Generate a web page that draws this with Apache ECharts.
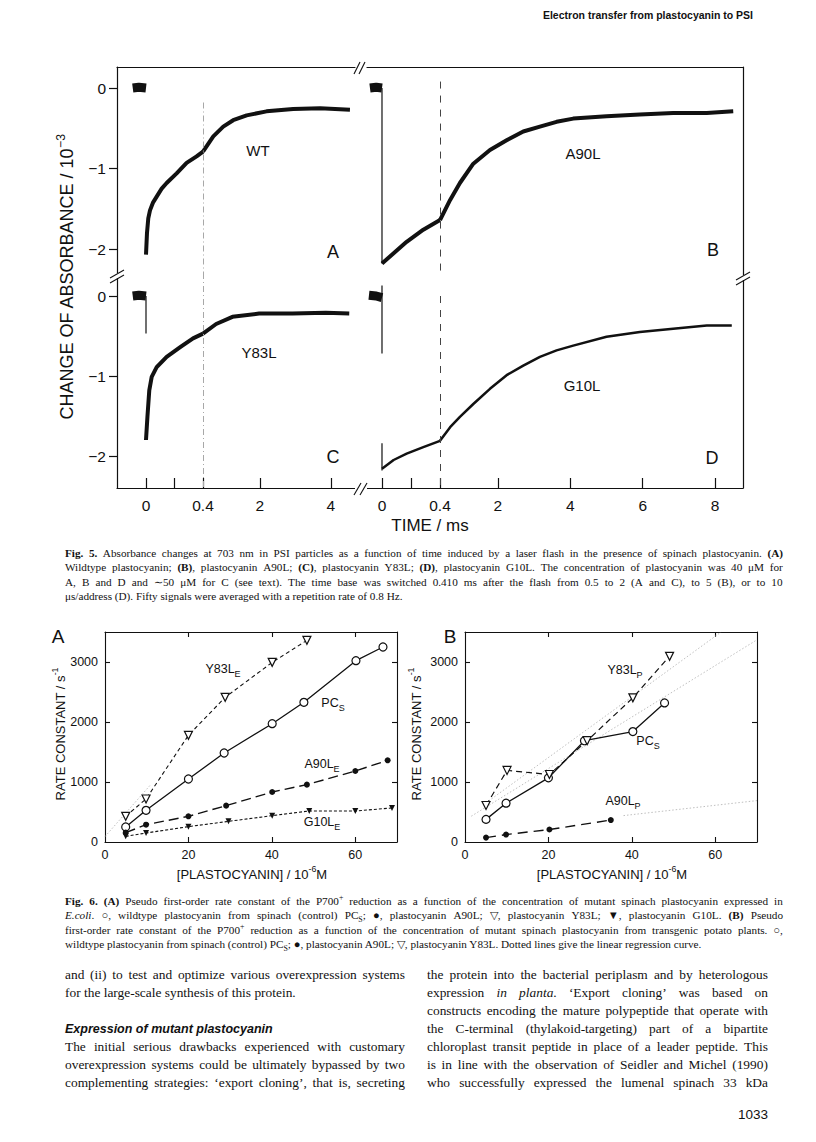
<!DOCTYPE html>
<html>
<head>
<meta charset="utf-8">
<script src="https://cdn.jsdelivr.net/npm/echarts@6/dist/echarts.min.js"></script>
<style>
html,body{margin:0;padding:0;background:#fff;}
#page{position:relative;width:816px;height:1142px;overflow:hidden;background:#fff;}
#chart{position:absolute;left:0;top:0;width:816px;height:1142px;}
.ln{position:absolute;color:#111;font-family:"Liberation Serif","Times New Roman",serif;white-space:nowrap;}
.ln.j{display:flex;justify-content:space-between;}
.cap{font-size:11.2px;line-height:14px;height:14px;}
.bd{font-size:13.4px;line-height:18px;height:18px;}
.ln sub,.ln sup{font-size:70%;line-height:0;}
.sans{position:absolute;color:#111;font-family:"Liberation Sans",Arial,Helvetica,sans-serif;white-space:nowrap;}
</style>
</head>
<body>
<div id="page"><div id="chart"></div></div>
<script>
// ================= Fig. 5 data: time (ms) vs change of absorbance (10^-3) =================
const f5SwitchTime = 0.4;
const f5TicksLeft = [0, 0.2, 0.4, 2, 4];
const f5LabelsLeft = [0, 0.4, 2, 4];
const f5TicksRight = [0, 0.2, 0.4, 2, 4, 6, 8];
const f5LabelsRight = [0, 0.4, 2, 4, 6, 8];
const f5AbsTicks = [0, -1, -2];

// A: wildtype
const wtBaseline = [[-0.093, 0.0], [-0.05, 0.01], [0, 0.0]];
const wtFlash = [];
const wtTrace = [[0, -2.07], [0.007, -1.8], [0.016, -1.62], [0.028, -1.52], [0.05, -1.42], [0.075, -1.35],
  [0.11, -1.25], [0.145, -1.18], [0.215, -1.06], [0.285, -0.93], [0.355, -0.85], [0.4, -0.79],
  [0.69, -0.6], [0.97, -0.48], [1.25, -0.4], [1.63, -0.34], [2.19, -0.29], [2.94, -0.26], [3.7, -0.25], [4.54, -0.27]];
// B: A90L
const a90Baseline = [[-0.083, 0.0], [-0.04, 0.01], [0, 0.0]];
const a90Flash = [[0, 0.0], [0, -2.18]];
const a90Trace = [[0, -2.18], [0.17, -1.91], [0.285, -1.76], [0.4, -1.64], [0.68, -1.39], [0.95, -1.18],
  [1.32, -0.94], [1.78, -0.77], [2.24, -0.65], [2.7, -0.54], [3.16, -0.48], [3.62, -0.42], [4.08, -0.38],
  [5.0, -0.35], [5.92, -0.33], [6.84, -0.31], [7.77, -0.31], [8.5, -0.29]];
// C: Y83L
const y83Baseline = [[-0.093, 0.0], [-0.05, 0.01], [0, 0.0]];
const y83Flash = [[0, 0.0], [0, -0.47]];
const y83Trace = [[0, -1.8], [0.01, -1.51], [0.023, -1.18], [0.04, -1.01], [0.075, -0.89], [0.145, -0.76],
  [0.24, -0.64], [0.33, -0.53], [0.4, -0.47], [0.77, -0.35], [1.23, -0.26], [1.98, -0.22], [2.92, -0.22],
  [3.86, -0.21], [4.52, -0.22]];
// D: G10L
const g10Baseline = [[-0.09, 0.01], [-0.04, 0.0], [0, -0.02]];
const g10Flash = [[0, 0.13], [0, -0.72], [0, '-'], [0, -1.84], [0, -2.18]];
const g10Trace = [[0, -2.16], [0.08, -2.05], [0.17, -1.97], [0.285, -1.89], [0.4, -1.81], [0.68, -1.64],
  [0.95, -1.51], [1.32, -1.35], [1.78, -1.16], [2.24, -0.99], [2.7, -0.87], [3.16, -0.76], [3.62, -0.68],
  [4.08, -0.62], [5.0, -0.51], [5.92, -0.45], [6.84, -0.41], [7.77, -0.37], [8.46, -0.37]];

// ================= Fig. 6 data: [plastocyanin] (10^-6 M) vs rate constant (s^-1) =================
const f6XTicks = [0, 20, 40, 60];
const f6YTicks = [0, 1000, 2000, 3000];
// A (E. coli)
const pcsEX = [4.96, 9.84, 20, 28.56, 40.08, 47.68, 60.16, 66.64];
const pcsEY = [250, 528, 1050, 1483, 1972, 2328, 3022, 3250];
const y83EX = [4.96, 9.84, 20, 28.8, 40.08, 48.4];
const y83EY = [428, 717, 1778, 2411, 2994, 3361];
const a90EX = [4.96, 9.84, 20, 29.04, 40.08, 48.4, 60, 67.76];
const a90EY = [156, 289, 428, 606, 833, 956, 1183, 1361];
const g10EX = [4.96, 9.84, 20, 29.6, 40.08, 48.96, 60, 68.8];
const g10EY = [94, 150, 256, 344, 439, 517, 517, 567];
const regAX = [0, 10.8];
const regAY = [90, 944];
// B (transgenic potato)
const pcsPX = [5.04, 9.84, 20, 28.64, 40.24, 47.84];
const pcsPY = [377, 647, 1069, 1688, 1840, 2318];
const y83PX = [5.04, 10.08, 20.24, 29.28, 40.24, 49.04];
const y83PY = [608, 1193, 1125, 1688, 2403, 3095];
const a90PX = [5.04, 9.84, 20.24, 34.96];
const a90PY = [73, 124, 208, 366];
const regPcsPX = [1.5, 70];
const regPcsPY = [430, 3370];
const regY83PX = [5, 61.4];
const regY83PY = [650, 3500];
const regA90PX = [38, 70];
const regA90PY = [440, 690];

// ================= build =================
const FONT = '"Liberation Sans", Arial, Helvetica, sans-serif';
const INK = '#111';
const zip = (xs, ys) => xs.map((x, i) => [x, ys[i]]);
const grids = [], xAxes = [], yAxes = [], series = [], graphics = [];

const f5Panels = [
  {top: 67, height: 206, yMin: -2.298, yMax: 0.261, x1: 117, x2: 203, x3: 355, tMin: -0.2035, tMax: 4.682,
   bottom: false, right: false, ticks: f5TicksLeft, labels: f5LabelsLeft,
   base: wtBaseline, flash: wtFlash, trace: wtTrace, mark: [-0.18, -2.298], dark: false, tw: 4},
  {top: 67, height: 206, yMin: -2.298, yMax: 0.261, x1: 367, x2: 440, x3: 743, tMin: -0.1034, tMax: 8.77,
   bottom: false, right: true, ticks: f5TicksRight, labels: f5LabelsRight,
   base: a90Baseline, flash: a90Flash, trace: a90Trace, mark: [0.08, -2.298], dark: true, tw: 4},
  {top: 273, height: 215, yMin: -2.4, yMax: 0.2875, x1: 117, x2: 203, x3: 355, tMin: -0.2035, tMax: 4.682,
   bottom: true, right: false, ticks: f5TicksLeft, labels: f5LabelsLeft,
   base: y83Baseline, flash: y83Flash, trace: y83Trace, mark: [0.2875, -2.4], dark: false, tw: 4},
  {top: 273, height: 215, yMin: -2.4, yMax: 0.2875, x1: 367, x2: 440, x3: 743, tMin: -0.1034, tMax: 8.77,
   bottom: true, right: true, ticks: f5TicksRight, labels: f5LabelsRight,
   base: g10Baseline, flash: g10Flash, trace: g10Trace, mark: [0.0, -2.4], dark: true, tw: 2.5}
];

const minusFmt = v => (v < 0 ? '\u2212' + Math.abs(v) : String(v));

f5Panels.forEach(p => {
  [true, false].forEach(first => {
    const gi = grids.length;
    const left = first ? p.x1 : p.x2;
    const width = first ? p.x2 - p.x1 : p.x3 - p.x2;
    grids.push({left, top: p.top, width, height: p.height});
    const inSeg = t => (first ? t <= f5SwitchTime : t >= f5SwitchTime);
    const tickSel = t => (first ? t <= f5SwitchTime : t > f5SwitchTime);
    xAxes.push({
      type: 'value', gridIndex: gi, min: first ? p.tMin : f5SwitchTime, max: first ? f5SwitchTime : p.tMax,
      position: p.bottom ? 'bottom' : 'top',
      axisLine: {show: true, onZero: false, lineStyle: {color: INK, width: 1.2}},
      axisTick: {show: p.bottom, inside: true, length: 10, customValues: p.ticks.filter(tickSel), lineStyle: {color: INK, width: 1.2}},
      axisLabel: {show: p.bottom, customValues: p.labels.filter(tickSel), formatter: v => String(v), margin: 9, color: INK, fontSize: 15.5, fontFamily: FONT},
      splitLine: {show: false}
    });
    const showLeft = first && !p.right;
    const showRight = !first && p.right;
    yAxes.push({
      type: 'value', gridIndex: gi, min: p.yMin, max: p.yMax,
      position: showRight ? 'right' : 'left', show: showLeft || showRight,
      axisLine: {show: true, onZero: false, lineStyle: {color: INK, width: 1.2}},
      axisTick: {show: showLeft, inside: false, length: 8, customValues: f5AbsTicks, lineStyle: {color: INK, width: 1.2}},
      axisLabel: {show: showLeft, customValues: f5AbsTicks, formatter: minusFmt, margin: 11, color: INK, fontSize: 15.5, fontFamily: FONT},
      splitLine: {show: false}
    });
    const base = {type: 'line', xAxisIndex: gi, yAxisIndex: gi, symbol: 'none', silent: true, clip: false,
      emphasis: {disabled: true}};
    if (first) {
      series.push(Object.assign({}, base, {data: p.base, lineStyle: {color: INK, width: 9, cap: 'butt'}}));
      if (p.flash.length) series.push(Object.assign({}, base, {data: p.flash, lineStyle: {color: INK, width: 1.2}}));
    }
    const s = Object.assign({}, base, {data: p.trace.filter(d => inSeg(d[0])),
      lineStyle: {color: INK, width: p.tw, join: 'round'}});
    if (first) {
      s.markLine = {silent: true, symbol: 'none', label: {show: false},
        lineStyle: {color: p.dark ? '#444' : '#a8a8a8', width: 1, type: p.dark ? [7, 7] : [6, 3, 1, 3]},
        data: [[{coord: [f5SwitchTime, p.mark[0]]}, {coord: [f5SwitchTime, p.mark[1]]}]]};
    }
    series.push(s);
  });
});

function f6Panel(left, defs, regs) {
  const gi = grids.length;
  grids.push({left, top: 632, width: 292, height: 210});
  const common = () => ({type: 'value', gridIndex: gi, splitLine: {show: false},
    axisLine: {show: true, onZero: false, lineStyle: {color: INK, width: 1.1}}});
  const tick = vals => ({inside: true, length: 5, customValues: vals, lineStyle: {color: INK, width: 1.1}});
  const lab = (vals, m) => ({customValues: vals, formatter: v => String(v), margin: m, color: INK, fontSize: 12.5, fontFamily: FONT});
  const xb = xAxes.length;
  xAxes.push(Object.assign(common(), {min: 0, max: 70, position: 'bottom', axisTick: tick(f6XTicks.slice(1)), axisLabel: lab(f6XTicks, 6)}));
  xAxes.push(Object.assign(common(), {min: 0, max: 70, position: 'top', axisTick: tick(f6XTicks.slice(1)), axisLabel: {show: false}}));
  const yl = yAxes.length;
  yAxes.push(Object.assign(common(), {min: 0, max: 3500, position: 'left', axisTick: tick(f6YTicks.slice(1)), axisLabel: lab(f6YTicks, 7)}));
  yAxes.push(Object.assign(common(), {min: 0, max: 3500, position: 'right', axisTick: tick(f6YTicks.slice(1)), axisLabel: {show: false}}));
  regs.forEach(r => series.push({type: 'line', xAxisIndex: xb, yAxisIndex: yl, data: zip(r[0], r[1]), symbol: 'none',
    silent: true, z: 1, lineStyle: {color: '#b8b8b8', width: 0.9, type: [1.5, 2]}}));
  defs.forEach(d => series.push({
    type: 'line', xAxisIndex: xb, yAxisIndex: yl, data: zip(d.x, d.y), silent: true, z: 3,
    symbol: d.sym, symbolSize: d.size, symbolRotate: d.rot || 0, showSymbol: true, showAllSymbol: true,
    itemStyle: d.hollow ? {color: '#fff', borderColor: INK, borderWidth: 1.2} : {color: INK, borderColor: INK, borderWidth: 0},
    lineStyle: {color: INK, width: d.w, type: d.dash}
  }));
}

f6Panel(105, [
  {x: pcsEX, y: pcsEY, sym: 'circle', size: 8, hollow: true, dash: 'solid', w: 1.3},
  {x: y83EX, y: y83EY, sym: 'triangle', rot: 180, size: 8, hollow: true, dash: [4, 3], w: 1.1},
  {x: a90EX, y: a90EY, sym: 'circle', size: 6, hollow: false, dash: [10, 5], w: 1.4},
  {x: g10EX, y: g10EY, sym: 'triangle', rot: 180, size: 6, hollow: false, dash: [3, 2], w: 1.1}
], [[regAX, regAY]]);

f6Panel(465, [
  {x: pcsPX, y: pcsPY, sym: 'circle', size: 8, hollow: true, dash: 'solid', w: 1.3},
  {x: y83PX, y: y83PY, sym: 'triangle', rot: 180, size: 8, hollow: true, dash: [6, 4], w: 1.2},
  {x: a90PX, y: a90PY, sym: 'circle', size: 6, hollow: false, dash: [10, 6], w: 1.4}
], [[regPcsPX, regPcsPY], [regY83PX, regY83PY], [regA90PX, regA90PY]]);

// ---------- text & break marks ----------
function txt(x, y, text, size, opt) {
  opt = opt || {};
  const al = opt.align || 'center';
  const st = {text, fill: INK, font: (opt.weight || 'normal') + ' ' + size + 'px ' + FONT,
    align: al, verticalAlign: 'middle', textAlign: al, textVerticalAlign: 'middle'};
  if (opt.rich) st.rich = opt.rich;
  return {type: 'text', x, y, rotation: opt.rot || 0, silent: true, z: 10, style: st};
}
const richSub = (fs) => ({m: {fontSize: fs, fontFamily: FONT, lineHeight: fs + 6, fill: INK, color: INK},
  s: {fontSize: fs * 0.72, fontFamily: FONT, lineHeight: fs * 0.72, verticalAlign: 'bottom', fill: INK, color: INK}});
const richSup = (fs) => ({m: {fontSize: fs, fontFamily: FONT, lineHeight: fs + 6, fill: INK, color: INK},
  s: {fontSize: fs * 0.68, fontFamily: FONT, lineHeight: fs * 0.68, verticalAlign: 'top', fill: INK, color: INK}});

graphics.push(
  txt(67, 277, '{m|CHANGE OF ABSORBANCE / 10}{s|\u22123}', 18, {rot: Math.PI / 2, rich: richSup(18)}),
  txt(430, 525, 'TIME / ms', 17),
  txt(258, 150, 'WT', 15), txt(583, 153, 'A90L', 15), txt(259, 352, 'Y83L', 15), txt(582, 385, 'G10L', 15),
  txt(333, 252, 'A', 18), txt(713, 250, 'B', 18), txt(333, 457, 'C', 18), txt(712, 458, 'D', 18),
  // Fig. 6 texts
  txt(60, 734, '{m|RATE CONSTANT / s}{s|-1}', 13, {rot: Math.PI / 2, rich: richSup(13)}),
  txt(416, 734, '{m|RATE CONSTANT / s}{s|-1}', 13, {rot: Math.PI / 2, rich: richSup(13)}),
  txt(252, 874, '{m|[PLASTOCYANIN] / 10}{s|-6}{m|M}', 13, {rich: richSup(13)}),
  txt(612, 874, '{m|[PLASTOCYANIN] / 10}{s|-6}{m|M}', 13, {rich: richSup(13)}),
  txt(58, 636, 'A', 19), txt(450, 636, 'B', 19),
  txt(223, 669, '{m|Y83L}{s|E}', 12.5, {rich: richSub(12.5)}),
  txt(333, 703, '{m|PC}{s|S}', 12.5, {rich: richSub(12.5)}),
  txt(322, 764, '{m|A90L}{s|E}', 12.5, {rich: richSub(12.5)}),
  txt(322, 822, '{m|G10L}{s|E}', 12.5, {rich: richSub(12.5)}),
  txt(625, 670, '{m|Y83L}{s|P}', 12.5, {rich: richSub(12.5)}),
  txt(648, 741, '{m|PC}{s|S}', 12.5, {rich: richSub(12.5)}),
  txt(623, 801, '{m|A90L}{s|P}', 12.5, {rich: richSub(12.5)})
);

function brk(rect, l1, l2) {
  graphics.push({type: 'rect', shape: rect, style: {fill: '#fff'}, z: 11, silent: true});
  [l1, l2].forEach(l => graphics.push({type: 'line', shape: {x1: l[0], y1: l[1], x2: l[2], y2: l[3]},
    style: {stroke: INK, lineWidth: 1.1}, z: 12, silent: true}));
}
brk({x: 356, y: 63, width: 10, height: 8}, [354, 74, 360, 62], [359, 74, 365, 62]);
brk({x: 355, y: 484, width: 12, height: 8}, [354, 495, 361, 483], [360, 495, 367, 483]);
brk({x: 114, y: 273, width: 7, height: 5}, [110, 278, 124, 270], [110, 283, 124, 275]);
brk({x: 740, y: 275, width: 7, height: 5}, [736, 280, 750, 272], [736, 285, 750, 277]);

const chart = echarts.init(document.getElementById('chart'), null, {renderer: 'svg', width: 816, height: 1142});
chart.setOption({
  animation: false,
  backgroundColor: '#fff',
  grid: grids.map(g => Object.assign({containLabel: false}, g)),
  xAxis: xAxes, yAxis: yAxes, series: series,
  graphic: {elements: graphics}
});

// ================= page text =================
const page = document.getElementById('page');
function putLine(html, left, cy, width, cls, lh, justify) {
  const d = document.createElement('div');
  d.className = 'ln ' + cls + (justify ? ' j' : '');
  d.style.left = left + 'px';
  d.style.top = (cy - lh / 2) + 'px';
  if (justify) {
    d.style.width = width + 'px';
    d.innerHTML = html.split(' ').map(w => '<span>' + w + '</span>').join('');
  } else {
    d.innerHTML = html;
  }
  page.appendChild(d);
}
function putBlock(lines, left, top, width, cls, lh, lastJustified) {
  lines.forEach((l, i) => putLine(l, left, top + i * lh, width, cls, lh, lastJustified || i < lines.length - 1));
}

const cap5 = [
  '<b>Fig.</b> <b>5.</b> Absorbance changes at 703 nm in PSI particles as a function of time induced by a laser flash in the presence of spinach plastocyanin. <b>(A)</b>',
  'Wildtype plastocyanin; <b>(B)</b>, plastocyanin A90L; <b>(C)</b>, plastocyanin Y83L; <b>(D)</b>, plastocyanin G10L. The concentration of plastocyanin was 40 \u03bcM for',
  'A, B and D and \u223c50 \u03bcM for C (see text). The time base was switched 0.410 ms after the flash from 0.5 to 2 (A and C), to 5 (B), or to 10',
  '\u03bcs/address (D). Fifty signals were averaged with a repetition rate of 0.8 Hz.'
];
const cap6 = [
  '<b>Fig.</b> <b>6.</b> <b>(A)</b> Pseudo first-order rate constant of the P700<sup>+</sup> reduction as a function of the concentration of mutant spinach plastocyanin expressed in',
  '<i>E.coli</i>. \u25cb, wildtype plastocyanin from spinach (control) PC<sub>S</sub>; \u25cf, plastocyanin A90L; \u25bd, plastocyanin Y83L; \u25bc, plastocyanin G10L. <b>(B)</b> Pseudo',
  'first-order rate constant of the P700<sup>+</sup> reduction as a function of the concentration of mutant spinach plastocyanin from transgenic potato plants. \u25cb,',
  'wildtype plastocyanin from spinach (control) PC<sub>S</sub>; \u25cf, plastocyanin A90L; \u25bd, plastocyanin Y83L. Dotted lines give the linear regression curve.'
];
putBlock(cap5, 65, 553, 718, 'cap', 14.5, false);
putBlock(cap6, 65, 901, 718, 'cap', 14.5, false);

putBlock(['and (ii) to test and optimize various overexpression systems',
  'for the large-scale synthesis of this protein.'], 65, 975, 340, 'bd', 18, false);
putBlock(['The initial serious drawbacks experienced with customary',
  'overexpression systems could be ultimately bypassed by two',
  'complementing strategies: \u2018export cloning\u2019, that is, secreting'], 65, 1047, 340, 'bd', 18, true);
putBlock(['the protein into the bacterial periplasm and by heterologous',
  'expression <i>in</i> <i>planta</i>. \u2018Export cloning\u2019 was based on',
  'constructs encoding the mature polypeptide that operate with',
  'the C-terminal (thylakoid-targeting) part of a bipartite',
  'chloroplast transit peptide in place of a leader peptide. This',
  'is in line with the observation of Seidler and Michel (1990)',
  'who successfully expressed the lumenal spinach 33 kDa'], 427, 975, 341, 'bd', 18, true);

function sans(text, x, cy, size, style, alignRight) {
  const d = document.createElement('div');
  d.className = 'sans';
  d.style.fontSize = size + 'px';
  d.style.lineHeight = (size + 4) + 'px';
  d.style.top = (cy - (size + 4) / 2) + 'px';
  if (alignRight) d.style.right = (816 - x) + 'px'; else d.style.left = x + 'px';
  if (style) d.style.cssText += style;
  d.textContent = text;
  page.appendChild(d);
}
sans('Electron transfer from plastocyanin to PSI', 753, 15, 10.5, 'font-weight:bold;', true);
sans('Expression of mutant plastocyanin', 65, 1029, 12.5, 'font-weight:bold;font-style:italic;', false);
sans('1033', 768, 1115, 13.5, '', true);
</script>
</body>
</html>
